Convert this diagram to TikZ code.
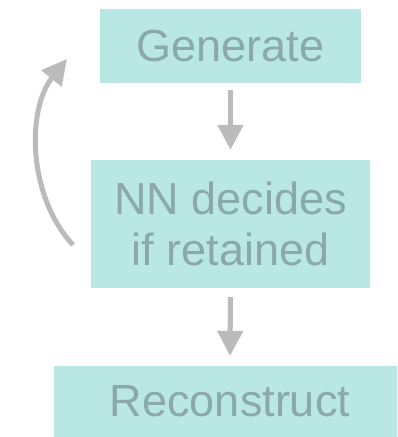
\documentclass[tikz,border=0pt]{standalone}
\usepackage{fontspec}
\setmainfont{Liberation Sans}
\usepackage{xcolor}
\usetikzlibrary{arrows.meta}
\definecolor{stepfill}{HTML}{B9E7E4}
\definecolor{steptext}{HTML}{8BA9A6}
\definecolor{flowgray}{HTML}{BBBBBB}

\begin{document}
\begin{tikzpicture}[x=1pt, y=-1pt,
    stepbox/.style={fill=stepfill, text=steptext, inner sep=0pt, align=center,
      font=\fontsize{45}{51}\selectfont},
    flow/.style={flowgray, line width=5pt, -{Triangle[length=25pt, width=25pt]}}]
  \useasboundingbox (0,0) rectangle (397,437);
  \clip (0,0) rectangle (397,437);
  \node[stepbox, minimum width=261pt, minimum height=74pt] (gen) at (230.5,46) {Generate};
  \node[stepbox, minimum width=279pt, minimum height=128pt] (nn) at (230.5,224)
    {NN decides\\if retained};
  \node[stepbox, minimum width=352pt, minimum height=71pt] (rec) at (230,401.5) {Reconstruct};
  \draw[flow, shorten <=7pt, shorten >=10pt] (gen.south) -- (nn.north);
  \draw[flow, shorten <=9pt, shorten >=10pt] (nn.south) -- (rec.north);
  % back to the start
  \coordinate (loopfrom) at (73,245);
  \coordinate (loopto) at (67,59);
  \draw[flow] (loopfrom) .. controls (27,195) and (27,109) .. (loopto);
\end{tikzpicture}
\end{document}
